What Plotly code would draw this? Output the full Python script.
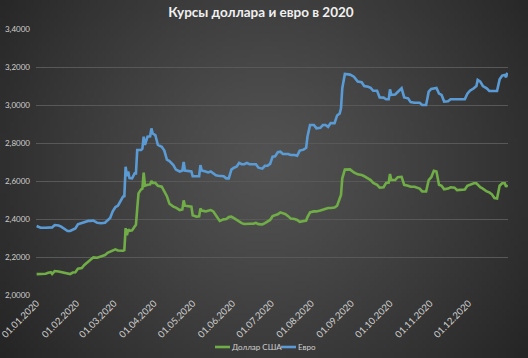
import base64, struct, zlib, math
import plotly.graph_objects as go

# ---------------- data ----------------
dates = [
 "2020-01-01","2020-01-04","2020-01-08","2020-01-10","2020-01-12","2020-01-13","2020-01-15","2020-01-18",
 "2020-01-20","2020-01-23","2020-01-25","2020-01-27","2020-01-29","2020-01-31","2020-02-02","2020-02-05",
 "2020-02-07","2020-02-10","2020-02-12","2020-02-14","2020-02-17","2020-02-20","2020-02-23","2020-02-25",
 "2020-02-27","2020-02-29","2020-03-02","2020-03-04","2020-03-06","2020-03-08","2020-03-09","2020-03-10",
 "2020-03-11","2020-03-12","2020-03-13","2020-03-15","2020-03-17","2020-03-18","2020-03-19","2020-03-20",
 "2020-03-22","2020-03-23","2020-03-24","2020-03-25","2020-03-27","2020-03-29","2020-03-30","2020-03-31",
 "2020-04-02","2020-04-04","2020-04-07","2020-04-09","2020-04-11","2020-04-13","2020-04-16","2020-04-18",
 "2020-04-21","2020-04-23","2020-04-24","2020-04-25","2020-04-28","2020-04-30","2020-05-01","2020-05-04",
 "2020-05-06","2020-05-07","2020-05-08","2020-05-11","2020-05-13","2020-05-15","2020-05-17","2020-05-19",
 "2020-05-21","2020-05-22","2020-05-25","2020-05-27","2020-05-29","2020-05-31","2020-06-02","2020-06-04",
 "2020-06-06","2020-06-08","2020-06-10","2020-06-12","2020-06-14","2020-06-17","2020-06-19","2020-06-21",
 "2020-06-24","2020-06-26","2020-06-28","2020-06-30","2020-07-02","2020-07-04","2020-07-06","2020-07-08",
 "2020-07-10","2020-07-12","2020-07-14","2020-07-16","2020-07-19","2020-07-21","2020-07-23","2020-07-26",
 "2020-07-28","2020-07-29","2020-07-31","2020-08-03","2020-08-05","2020-08-08","2020-08-10","2020-08-12",
 "2020-08-14","2020-08-16","2020-08-19","2020-08-21","2020-08-23","2020-08-24","2020-08-25","2020-08-27",
 "2020-08-31","2020-09-03","2020-09-06","2020-09-09","2020-09-11","2020-09-14","2020-09-16","2020-09-18",
 "2020-09-21","2020-09-23","2020-09-26","2020-09-28","2020-09-30","2020-10-01","2020-10-02","2020-10-05",
 "2020-10-07","2020-10-10","2020-10-12","2020-10-15","2020-10-17","2020-10-20","2020-10-24","2020-10-26",
 "2020-10-29","2020-10-31","2020-11-02","2020-11-04","2020-11-06","2020-11-08","2020-11-10","2020-11-12",
 "2020-11-15","2020-11-17","2020-11-20","2020-11-22","2020-11-25","2020-11-28","2020-11-30","2020-12-02",
 "2020-12-05","2020-12-07","2020-12-08","2020-12-10","2020-12-12","2020-12-15","2020-12-17","2020-12-19",
 "2020-12-21","2020-12-23","2020-12-25","2020-12-27","2020-12-29","2020-12-30","2020-12-31",
]

usd = [
 2.110,2.110,2.112,2.117,2.120,2.111,2.126,2.124,
 2.120,2.118,2.110,2.110,2.118,2.120,2.138,2.142,
 2.158,2.175,2.185,2.198,2.196,2.205,2.210,2.222,
 2.228,2.238,2.240,2.234,2.232,2.233,2.236,2.352,
 2.315,2.345,2.338,2.340,2.360,2.370,2.455,2.535,
 2.556,2.560,2.644,2.575,2.580,2.582,2.600,2.590,
 2.590,2.575,2.570,2.545,2.520,2.480,2.465,2.460,
 2.447,2.450,2.498,2.470,2.465,2.465,2.420,2.412,
 2.414,2.456,2.444,2.440,2.444,2.447,2.440,2.420,
 2.400,2.390,2.398,2.400,2.410,2.412,2.405,2.395,
 2.385,2.378,2.374,2.373,2.375,2.375,2.380,2.373,
 2.371,2.378,2.385,2.395,2.415,2.418,2.425,2.435,
 2.430,2.425,2.415,2.402,2.400,2.395,2.385,2.388,
 2.392,2.410,2.435,2.440,2.440,2.445,2.450,2.456,
 2.458,2.458,2.460,2.470,2.505,2.526,2.614,2.660,
 2.661,2.645,2.635,2.632,2.625,2.614,2.605,2.590,
 2.580,2.565,2.567,2.590,2.592,2.637,2.605,2.605,
 2.620,2.622,2.580,2.575,2.570,2.570,2.560,2.545,
 2.545,2.605,2.620,2.654,2.650,2.580,2.575,2.556,
 2.560,2.567,2.565,2.552,2.552,2.555,2.575,2.580,
 2.588,2.588,2.580,2.567,2.560,2.545,2.540,2.530,
 2.510,2.508,2.575,2.588,2.588,2.570,2.580,
]

eur = [
 2.363,2.354,2.354,2.354,2.354,2.356,2.368,2.366,
 2.360,2.345,2.337,2.337,2.345,2.350,2.372,2.378,
 2.385,2.390,2.390,2.392,2.380,2.378,2.380,2.395,
 2.405,2.440,2.462,2.470,2.492,2.518,2.520,2.675,
 2.625,2.650,2.615,2.614,2.640,2.640,2.763,2.763,
 2.763,2.770,2.833,2.790,2.833,2.835,2.877,2.850,
 2.842,2.790,2.780,2.760,2.712,2.705,2.684,2.660,
 2.650,2.655,2.700,2.655,2.650,2.650,2.625,2.623,
 2.625,2.684,2.655,2.650,2.645,2.650,2.640,2.630,
 2.628,2.628,2.625,2.614,2.614,2.660,2.670,2.675,
 2.695,2.688,2.688,2.695,2.688,2.688,2.688,2.670,
 2.665,2.680,2.680,2.690,2.728,2.730,2.752,2.754,
 2.742,2.742,2.742,2.737,2.737,2.733,2.760,2.765,
 2.775,2.833,2.895,2.895,2.877,2.880,2.895,2.895,
 2.885,2.905,2.904,2.945,2.955,2.982,3.088,3.163,
 3.160,3.149,3.123,3.120,3.100,3.096,3.090,3.075,
 3.075,3.040,3.039,3.030,3.030,3.082,3.053,3.055,
 3.070,3.088,3.040,3.035,3.015,3.012,3.012,3.000,
 3.000,3.070,3.085,3.088,3.090,3.060,3.053,3.018,
 3.020,3.030,3.030,3.030,3.028,3.030,3.060,3.075,
 3.088,3.100,3.132,3.123,3.100,3.088,3.074,3.074,
 3.074,3.074,3.135,3.155,3.158,3.146,3.170,
]

tick_dates = ["2020-01-01","2020-02-01","2020-03-01","2020-04-01","2020-05-01","2020-06-01",
              "2020-07-01","2020-08-01","2020-09-01","2020-10-01","2020-11-01","2020-12-01"]
tick_labels = ["01.01.2020","01.02.2020","01.03.2020","01.04.2020","01.05.2020","01.06.2020",
               "01.07.2020","01.08.2020","01.09.2020","01.10.2020","01.11.2020","01.12.2020"]
y_ticks = [2.0, 2.2, 2.4, 2.6, 2.8, 3.0, 3.2, 3.4]

title_text = "Курсы доллара и евро в 2020"
series_names = ["Доллар США", "Евро"]
series_colors = ["#70ad47", "#5b9bd5"]

# ---------------- background gradient (radial, dark) ----------------
W, H = 132, 90
def png_bytes(w, h):
    raw = bytearray()
    cx, cy = w * 0.5, h * 0.45
    maxd = math.hypot(w * 0.5, h * 0.55)
    for j in range(h):
        raw.append(0)
        for i in range(w):
            r = math.hypot(i - cx, j - cy) / maxd
            c = int(round(82 - 46 * min(1.0, r) ** 1.2))
            raw += bytes((c, c, c))
    def chunk(t, d):
        return struct.pack(">I", len(d)) + t + d + struct.pack(">I", zlib.crc32(t + d) & 0xffffffff)
    return (b"\x89PNG\r\n\x1a\n" + chunk(b"IHDR", struct.pack(">IIBBBBB", w, h, 8, 2, 0, 0, 0))
            + chunk(b"IDAT", zlib.compress(bytes(raw), 9)) + chunk(b"IEND", b""))
bg_src = "data:image/png;base64," + base64.b64encode(png_bytes(W, H)).decode()

FW, FH = 528, 358
ML, MR, MT, MB = 36, 20, 29, 63
PW, PH = FW - ML - MR, FH - MT - MB

def px(x):  # figure pixel -> paper x
    return (x - ML) / PW
def py(y):  # figure pixel -> paper y
    return (FH - MB - y) / PH

fig = go.Figure()
for name, vals, col in zip(series_names, [usd, eur], series_colors):
    fig.add_trace(go.Scatter(x=dates, y=vals, mode="lines", name=name,
                             line=dict(color=col, width=2.6), showlegend=False))

# compact Excel-like legend
legend_shapes, legend_annots = [], []
leg_y = 347
for (x0, name, col) in [(215, series_names[0], series_colors[0]), (281, series_names[1], series_colors[1])]:
    legend_shapes.append(dict(type="line", xref="paper", yref="paper",
                              x0=px(x0), x1=px(x0 + 15), y0=py(leg_y), y1=py(leg_y),
                              line=dict(color=col, width=2.6)))
    legend_annots.append(dict(text=name, xref="paper", yref="paper", x=px(x0 + 15), y=py(leg_y),
                              xanchor="left", yanchor="middle", showarrow=False,
                              font=dict(size=8, color="#d0d0d0")))

xr = ["2019-12-31 12:00", "2020-12-31 12:00"]
yr = [2.0, 3.4]
fig.update_layout(
    width=FW, height=FH,
    margin=dict(l=ML, r=MR, t=MT, b=MB, autoexpand=False),
    paper_bgcolor="#3a3a3a", plot_bgcolor="rgba(0,0,0,0)",
    separators=", ",
    font=dict(family="Lato, Open Sans, sans-serif", color="#d0d0d0", size=9),
    title=dict(text="<b>" + title_text + "</b>", x=261 / FW, xref="container", xanchor="center",
               y=1 - 12 / FH, yanchor="middle",
               font=dict(size=13.5, color="#f0f0f0", family="Lato, Open Sans, sans-serif")),
    xaxis=dict(type="date", range=xr, tickvals=tick_dates, ticktext=tick_labels,
               tickangle=-45, showgrid=False, zeroline=False, showline=False, ticks="",
               tickfont=dict(size=9.5, color="#cfcfcf"), automargin=False,
               ticklabeloverflow="allow"),
    yaxis=dict(range=yr, tickvals=y_ticks, tickformat=".4f", showgrid=True,
               gridcolor="#585858", gridwidth=1, zeroline=False, showline=False, ticks="",
               tickfont=dict(size=8, color="#cfcfcf"), ticklabelstandoff=5, automargin=False),
    shapes=legend_shapes,
    annotations=legend_annots,
    images=[dict(source=bg_src, xref="paper", yref="paper",
                 x=-ML / PW, y=1 + MT / PH, sizex=FW / PW, sizey=FH / PH,
                 xanchor="left", yanchor="top", sizing="stretch", layer="below")],
    showlegend=False,
)

fig.write_html("out.html", config={"displayModeBar": False},
               post_script="document.body.style.margin='0';document.body.style.overflow='hidden';")
